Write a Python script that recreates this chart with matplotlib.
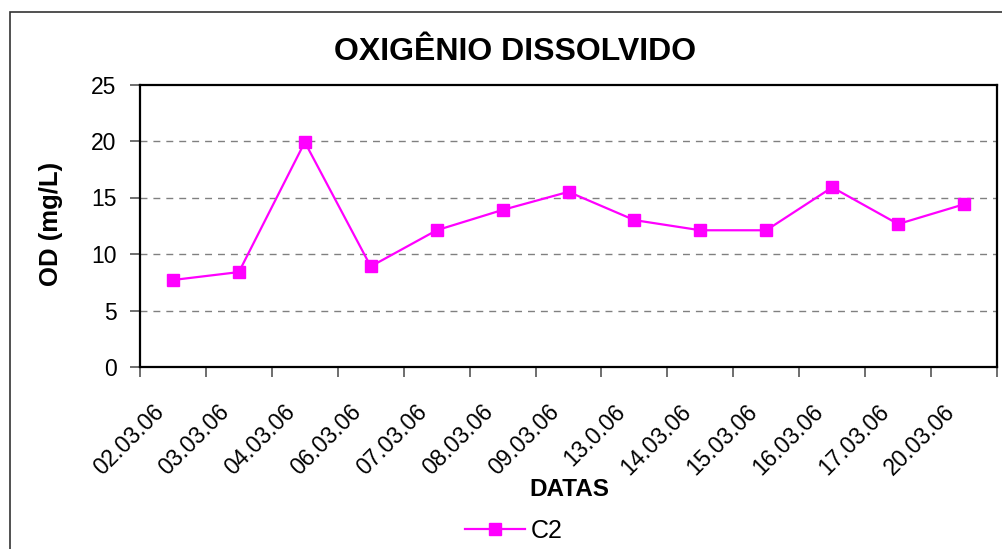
import matplotlib
matplotlib.use("Agg")
import matplotlib.pyplot as plt
import matplotlib.transforms as mtransforms
from matplotlib.patches import Rectangle
from matplotlib.lines import Line2D

plt.rcParams['font.family'] = ['Liberation Sans', 'DejaVu Sans']

dates = ["02.03.06", "03.03.06", "04.03.06", "06.03.06", "07.03.06", "08.03.06",
         "09.03.06", "13.0.06", "14.03.06", "15.03.06", "16.03.06", "17.03.06", "20.03.06"]
c2 = [7.7, 8.4, 19.9, 8.9, 12.1, 13.9, 15.5, 13.0, 12.1, 12.1, 15.9, 12.65, 14.4]
yticks = [0, 5, 10, 15, 20, 25]

W, H = 1002, 549
fig = plt.figure(figsize=(W / 100, H / 100), dpi=100)
ax = fig.add_axes([140 / W, 1 - 367 / H, (997 - 140) / W, (367 - 84.5) / H])

x = list(range(len(dates)))
ax.plot(x, c2, color='#FF00FF', lw=1.6, marker='s', markersize=8.5,
        markeredgecolor='#FF00FF', label='C2', zorder=3)

ax.set_xlim(-0.5, len(dates) - 0.5)
ax.set_ylim(0, 25)
ax.set_yticks(yticks)
ax.set_yticklabels([str(v) for v in yticks], fontsize=16.5)
for v in yticks[1:-1]:
    ax.axhline(v, color='#808080', lw=1.0, dashes=(5, 4.3), zorder=1)

ax.set_xticks([i - 0.5 for i in range(len(dates) + 1)])
ax.set_xticklabels([])
ax.tick_params(axis='both', direction='out', length=7, width=1.2, color='#555555')
ax.tick_params(axis='y', pad=10)

off = mtransforms.ScaledTranslation(-21 / 100, -33 / 100, fig.dpi_scale_trans)
for i, d in enumerate(dates):
    ax.text(i, 0, d, transform=ax.get_xaxis_transform() + off, rotation=45,
            rotation_mode='anchor', ha='right', va='top', fontsize=16.5)

for s in ax.spines.values():
    s.set_linewidth(1.6)
    s.set_color('black')

fig.text(515 / W, 1 - 52 / H, "OXIGÊNIO DISSOLVIDO", ha='center', va='center',
         fontsize=23, fontweight='bold')
fig.text(569 / W, 1 - 490 / H, "DATAS", ha='center', va='center',
         fontsize=17.5, fontweight='bold')
fig.text(51 / W, 1 - 224 / H, "OD (mg/L)", ha='center', va='center',
         fontsize=18.5, fontweight='bold', rotation=90)

# legend
leg_handle = Line2D([], [], color='#FF00FF', lw=1.6, marker='s', markersize=8.5)
leg = fig.legend([leg_handle], ['C2'], loc='center', bbox_to_anchor=(514 / W, 1 - 531 / H),
                 frameon=False, fontsize=18, handlelength=2.4, handletextpad=0.25)

# outer chart frame
fig.patches.append(Rectangle((10 / W, -0.1), 1.1, 1 - 12 / H + 0.1, transform=fig.transFigure,
                             fill=False, edgecolor='#333333', lw=1.2, zorder=0))

fig.savefig("out.png", dpi=100)
